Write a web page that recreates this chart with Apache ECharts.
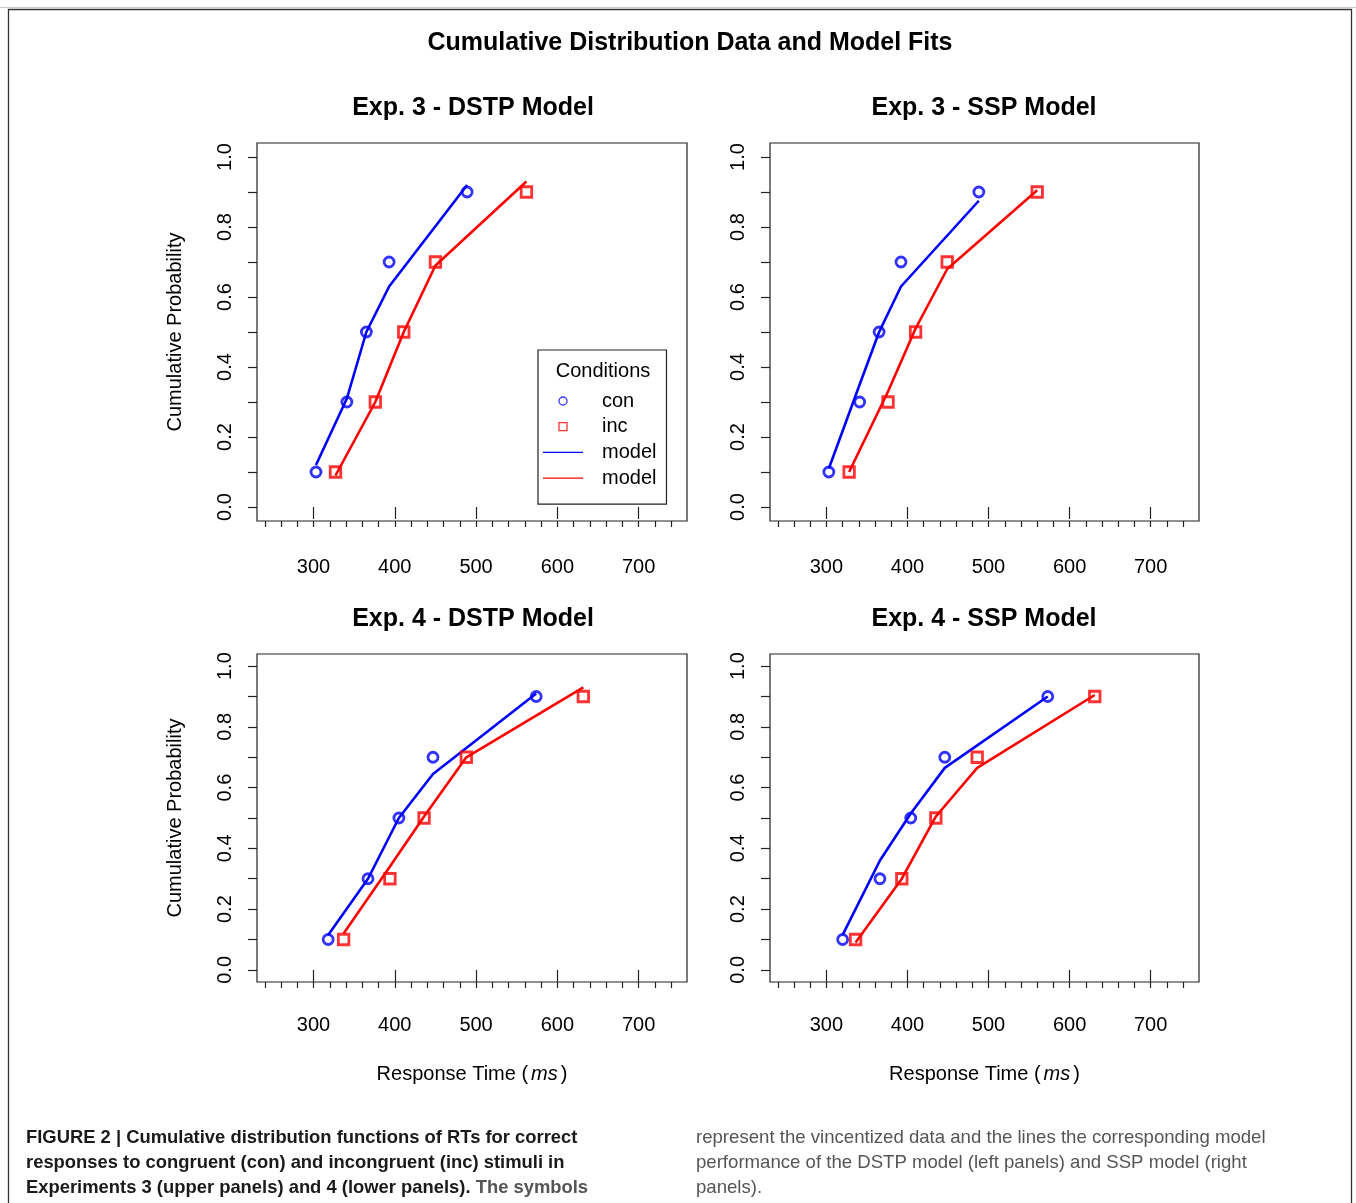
<!DOCTYPE html>
<html>
<head>
<meta charset="utf-8">
<title>Cumulative Distribution Data and Model Fits</title>
<script src="https://cdn.jsdelivr.net/npm/echarts@6/dist/echarts.min.js"></script>
<style>
  html, body { margin: 0; padding: 0; background: #fff; }
  #main { width: 1356px; height: 1203px; }
</style>
</head>
<body>
<div id="main"></div>
<script>
// quantile probabilities used for every panel
var quantiles = [0.1, 0.3, 0.5, 0.7, 0.9];

// Exp. 3 - DSTP
var exp3DstpConRT = [303, 341, 365, 393, 489];
var exp3DstpIncRT = [327, 376, 411, 450, 562];
var exp3DstpConModel = [0.12, 0.31, 0.50, 0.63, 0.92];
var exp3DstpIncModel = [0.09, 0.30, 0.50, 0.69, 0.93];

// Exp. 3 - SSP
var exp3SspConRT = [303, 341, 365, 392, 488];
var exp3SspIncRT = [328, 376, 410, 449, 560];
var exp3SspConModel = [0.11, 0.35, 0.50, 0.63, 0.875];
var exp3SspIncModel = [0.10, 0.33, 0.51, 0.68, 0.905];

// Exp. 4 - DSTP
var exp4DstpConRT = [318, 367, 405, 447, 574];
var exp4DstpIncRT = [337, 394, 436, 488, 632];
var exp4DstpConModel = [0.115, 0.30, 0.50, 0.645, 0.91];
var exp4DstpIncModel = [0.12, 0.34, 0.505, 0.70, 0.93];

// Exp. 4 - SSP
var exp4SspConRT = [320, 366, 404, 446, 573];
var exp4SspIncRT = [336, 393, 435, 486, 631];
var exp4SspConModel = [0.115, 0.36, 0.515, 0.665, 0.90];
var exp4SspIncModel = [0.09, 0.30, 0.505, 0.665, 0.905];

var panelTitles = ['Exp. 3 - DSTP Model', 'Exp. 3 - SSP Model', 'Exp. 4 - DSTP Model', 'Exp. 4 - SSP Model'];
var xMajorTicks = [300, 400, 500, 600, 700];
var xMinorTicks = [240, 260, 280, 300, 320, 340, 360, 380, 400, 420, 440, 460, 480, 500, 520, 540, 560, 580, 600, 620, 640, 660, 680, 700, 720, 740];
var yTicks = [0, 0.1, 0.2, 0.3, 0.4, 0.5, 0.6, 0.7, 0.8, 0.9, 1.0];
var yLabels = [0, 0.2, 0.4, 0.6, 0.8, 1.0];

var panels = [
  { con: exp3DstpConRT, inc: exp3DstpIncRT, conModel: exp3DstpConModel, incModel: exp3DstpIncModel },
  { con: exp3SspConRT, inc: exp3SspIncRT, conModel: exp3SspConModel, incModel: exp3SspIncModel },
  { con: exp4DstpConRT, inc: exp4DstpIncRT, conModel: exp4DstpConModel, incModel: exp4DstpIncModel },
  { con: exp4SspConRT, inc: exp4SspIncRT, conModel: exp4SspConModel, incModel: exp4SspIncModel }
];

var FONT = 'Liberation Sans, Arial, Helvetica, sans-serif';
var BLUE = '#0000ff';
var RED = '#ff0000';

// panel boxes (R plot regions)
var grids = [
  { left: 257, top: 143, width: 430, height: 378 },
  { left: 770, top: 143, width: 429, height: 378 },
  { left: 257, top: 654, width: 430, height: 328 },
  { left: 770, top: 654, width: 429, height: 328 }
];
var titleCenters = [[473, 107], [984, 107], [473, 618], [984, 618]];
var xLabelMargin = [36, 36, 33, 33];

function pairs(xs, ys) {
  var out = [];
  for (var i = 0; i < xs.length; i++) {
    out.push([xs[i], ys[i]]);
  }
  return out;
}

var gridOpt = [], xAxes = [], yAxes = [], series = [];
var titles = [{
  text: 'Cumulative Distribution Data and Model Fits',
  left: 690, top: 43, padding: 0,
  textAlign: 'center', textVerticalAlign: 'middle',
  textStyle: { fontFamily: FONT, fontSize: 25, fontWeight: 'bold', color: '#000' }
}];

grids.forEach(function(g, i) {
  gridOpt.push({
    left: g.left, top: g.top, width: g.width, height: g.height,
    show: true, borderColor: '#222', borderWidth: 1.2, backgroundColor: 'transparent'
  });
  titles.push({
    text: panelTitles[i],
    left: titleCenters[i][0], top: titleCenters[i][1] + 1, padding: 0,
    textAlign: 'center', textVerticalAlign: 'middle',
    textStyle: { fontFamily: FONT, fontSize: 25, fontWeight: 'bold', color: '#000' }
  });

  var bottomRow = i >= 2;
  var leftCol = i % 2 === 0;

  // labelled axis with long ticks
  xAxes.push({
    gridIndex: i, type: 'value', position: 'bottom', min: 230.4, max: 759.6,
    axisLine: { show: false },
    splitLine: { show: false },
    axisTick: { show: true, customValues: xMajorTicks, length: 12, lineStyle: { color: '#222', width: 1.2 } },
    axisLabel: { show: true, customValues: xMajorTicks, margin: xLabelMargin[i], fontFamily: FONT, fontSize: 20, color: '#000' },
    name: bottomRow ? '{n|Response Time (}{i|ms}{n|)}' : '',
    nameLocation: 'middle',
    nameGap: 82,
    nameTextStyle: {
      rich: {
        n: { fontFamily: FONT, fontSize: 20, color: '#000' },
        i: { fontFamily: FONT, fontSize: 20, color: '#000', fontStyle: 'italic', padding: [0, 3, 0, 3] }
      }
    }
  });
  // short minor ticks every 20 ms, same bottom edge
  xAxes.push({
    gridIndex: i, type: 'value', position: 'bottom', offset: 0, min: 230.4, max: 759.6,
    axisLine: { show: false },
    splitLine: { show: false },
    axisTick: { show: true, customValues: xMinorTicks, length: 6, lineStyle: { color: '#222', width: 1.2 } },
    axisLabel: { show: false }
  });

  yAxes.push({
    gridIndex: i, type: 'value', min: -0.04, max: 1.04,
    axisLine: { show: false },
    splitLine: { show: false },
    axisTick: { show: true, customValues: yTicks, length: 9, lineStyle: { color: '#222', width: 1.2 } },
    axisLabel: {
      show: true, customValues: yLabels, rotate: 90, margin: 22,
      fontFamily: FONT, fontSize: 20, color: '#000',
      formatter: function(v) { return Number(v).toFixed(1); }
    },
    name: leftCol ? 'Cumulative Probability' : '',
    nameLocation: 'middle',
    nameRotate: 90,
    nameGap: 72,
    nameTextStyle: { fontFamily: FONT, fontSize: 20, color: '#000' }
  });

  var p = panels[i];
  var xIdx = i * 2;
  series.push({
    name: 'con', type: 'scatter', xAxisIndex: xIdx, yAxisIndex: i,
    data: pairs(p.con, quantiles),
    symbol: 'circle', symbolSize: 10,
    itemStyle: { color: 'transparent', borderColor: BLUE, borderWidth: 2.8 },
    z: 3
  });
  series.push({
    name: 'inc', type: 'scatter', xAxisIndex: xIdx, yAxisIndex: i,
    data: pairs(p.inc, quantiles),
    symbol: 'rect', symbolSize: 10.5,
    itemStyle: { color: 'transparent', borderColor: RED, borderWidth: 2.8 },
    z: 3
  });
  series.push({
    name: 'con model', type: 'line', xAxisIndex: xIdx, yAxisIndex: i,
    data: pairs(p.con, p.conModel),
    symbol: 'none', color: BLUE,
    lineStyle: { color: BLUE, width: 2.6 },
    z: 2
  });
  series.push({
    name: 'inc model', type: 'line', xAxisIndex: xIdx, yAxisIndex: i,
    data: pairs(p.inc, p.incModel),
    symbol: 'none', color: RED,
    lineStyle: { color: RED, width: 2.6 },
    z: 2
  });
});

titles.push({
  text: 'Conditions',
  left: 603, top: 371, padding: 0,
  textAlign: 'center', textVerticalAlign: 'middle',
  textStyle: { fontFamily: FONT, fontSize: 20, fontWeight: 'normal', color: '#000' },
  z: 10
});

// figure caption, two columns
titles.push({
  text: '{b|FIGURE 2 | Cumulative distribution functions of RTs for correct}\n' +
        '{b|responses to congruent (con) and incongruent (inc) stimuli in}\n' +
        '{b|Experiments 3 (upper panels) and 4 (lower panels).}{n| The symbols}',
  left: 26, top: 1125, padding: 0,
  textStyle: {
    rich: {
      b: { fontFamily: FONT, fontSize: 18.4, fontWeight: 'bold', color: '#1a1a1a', lineHeight: 25 },
      n: { fontFamily: FONT, fontSize: 18.4, color: '#555', lineHeight: 25 }
    }
  }
});
titles.push({
  text: 'represent the vincentized data and the lines the corresponding model\n' +
        'performance of the DSTP model (left panels) and SSP model (right\n' +
        'panels).',
  left: 696, top: 1125, padding: 0,
  textStyle: { fontFamily: FONT, fontSize: 18.6, fontWeight: 'normal', color: '#555', lineHeight: 25 }
});

var chart = echarts.init(document.getElementById('main'), null, { renderer: 'canvas' });
chart.setOption({
  animation: false,
  backgroundColor: '#fff',
  title: titles,
  grid: gridOpt,
  xAxis: xAxes,
  yAxis: yAxes,
  legend: {
    orient: 'vertical',
    left: 538, top: 350,
    padding: [41, 10, 16, 5],
    itemGap: 5.7,
    itemWidth: 40,
    itemHeight: 8,
    selectedMode: false,
    borderColor: '#222',
    borderWidth: 1.2,
    backgroundColor: '#fff',
    textStyle: { fontFamily: FONT, fontSize: 20, color: '#000', lineHeight: 16, padding: [4, 0, 0, 14] },
    formatter: function(name) { return name.indexOf('model') >= 0 ? 'model' : name; },
    data: [
      { name: 'con', icon: 'circle', itemStyle: { color: 'transparent', borderColor: BLUE, borderWidth: 1.3 } },
      { name: 'inc', icon: 'path://M0,0H10V10H0Z', itemStyle: { color: 'transparent', borderColor: RED, borderWidth: 1.3 } },
      { name: 'con model', icon: 'path://M0,0H40V1.4H0Z', itemStyle: { color: BLUE, borderWidth: 0 } },
      { name: 'inc model', icon: 'path://M0,0H40V1.4H0Z', itemStyle: { color: RED, borderWidth: 0 } }
    ]
  },
  graphic: [
    { type: 'line', shape: { x1: 0, y1: 7.5, x2: 1356, y2: 7.5 }, style: { stroke: '#c8c8c8', lineWidth: 1 }, silent: true },
    { type: 'rect', shape: { x: 8.5, y: 9.5, width: 1343, height: 1300 }, style: { fill: 'none', stroke: '#333', lineWidth: 1.3 }, silent: true }
  ],
  series: series
});
</script>
</body>
</html>
